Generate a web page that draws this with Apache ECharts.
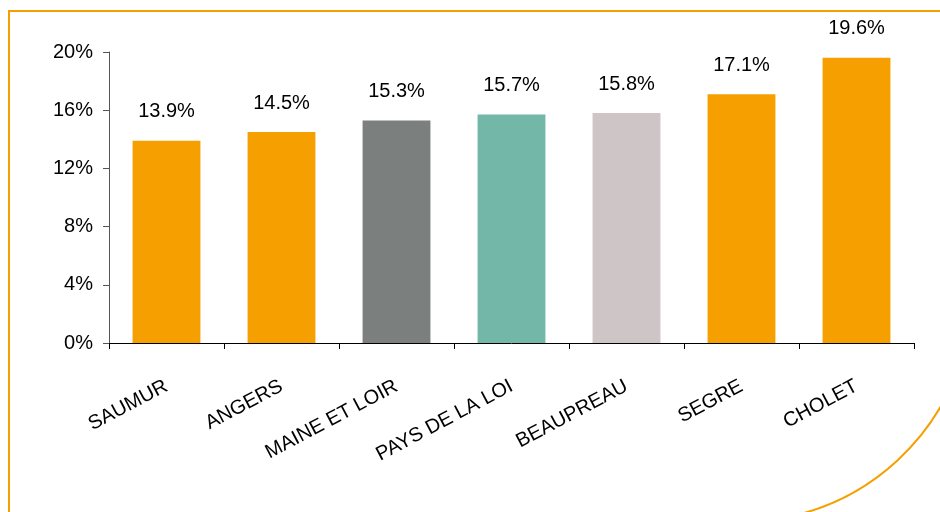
<!DOCTYPE html>
<html><head><meta charset="utf-8">
<script src="https://cdn.jsdelivr.net/npm/echarts@6/dist/echarts.min.js"></script>
<style>html,body{margin:0;padding:0;background:#fff}#c{width:940px;height:512px}</style>
</head><body><div id="c"></div>
<script>
const categories = ['SAUMUR', 'ANGERS', 'MAINE ET LOIRE', 'PAYS DE LA LOIRE', 'BEAUPREAU', 'SEGRE', 'CHOLET'];
const values = [13.9, 14.5, 15.3, 15.7, 15.8, 17.1, 19.6];
const barColors = ['#F5A000', '#F5A000', '#7B7F7D', '#72B7A8', '#CEC5C6', '#F5A000', '#F5A000'];
const yTicks = [0, 4, 8, 12, 16, 20];

const chart = echarts.init(document.getElementById('c'), null, {renderer: 'canvas'});
const font = 'Liberation Sans, Arial, sans-serif';
chart.setOption({
  animation: false,
  backgroundColor: '#fff',
  grid: {left: 109, right: 26, top: 52, bottom: 169, containLabel: false},
  xAxis: {
    type: 'category',
    data: categories,
    axisLine: {lineStyle: {color: '#000', width: 1}},
    axisTick: {show: true, length: 6, lineStyle: {color: '#000'}},
    axisLabel: {
      rotate: 28, margin: 42, color: '#000', fontSize: 20, fontFamily: font,
      width: 155, overflow: 'truncate', ellipsis: ''
    }
  },
  yAxis: {
    type: 'value',
    min: yTicks[0], max: yTicks[yTicks.length - 1], interval: 4,
    axisLine: {show: true, lineStyle: {color: '#555'}},
    axisTick: {show: true, length: 6, lineStyle: {color: '#555'}},
    splitLine: {show: false},
    axisLabel: {color: '#000', fontSize: 20, fontFamily: font, margin: 16, formatter: v => v + '%'}
  },
  series: [{
    type: 'bar',
    barWidth: '59%',
    data: values.map((v, i) => ({value: v, itemStyle: {color: barColors[i]}})),
    label: {
      show: true, position: 'top', distance: 19, color: '#000', fontSize: 20, fontFamily: font,
      formatter: p => p.value.toFixed(1) + '%'
    }
  }],
  graphic: [
    {type: 'line', shape: {x1: 9, y1: 11, x2: 9, y2: 512}, style: {stroke: '#F5A000', lineWidth: 2}},
    {type: 'line', shape: {x1: 8, y1: 11, x2: 940, y2: 11}, style: {stroke: '#F5A000', lineWidth: 2}},
    {type: 'arc', shape: {cx: 740, cy: 290, r: 232, startAngle: 0.3, endAngle: 1.35, clockwise: true},
     style: {stroke: '#F5A000', lineWidth: 2, fill: null}}
  ]
});
</script></body></html>
